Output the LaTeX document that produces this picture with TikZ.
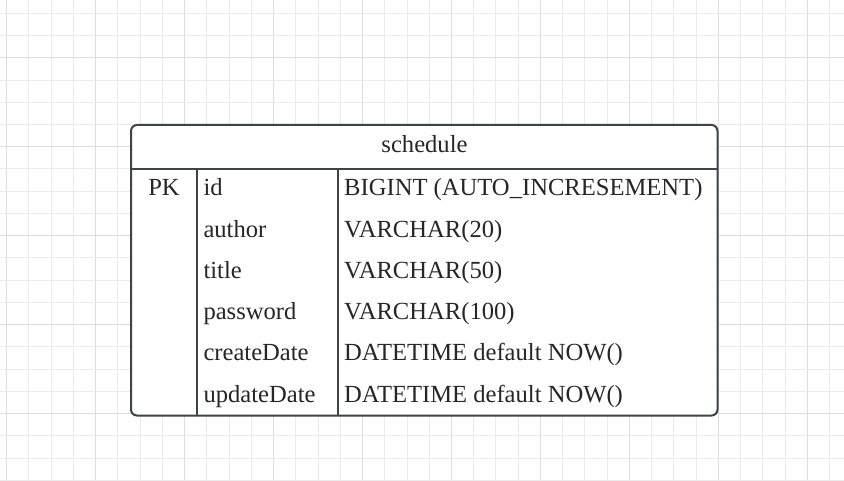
\documentclass[tikz,border=0pt]{standalone}
\usepackage{fontspec}
\setmainfont{Liberation Serif}
\definecolor{framecol}{HTML}{3D434B}
\definecolor{textcol}{HTML}{262626}
\definecolor{gridlight}{HTML}{EBEBEB}
\definecolor{griddark}{HTML}{DDDDDD}
\begin{document}
\begin{tikzpicture}[x=1pt,y=-1pt,
  gridminor/.style={draw=gridlight, line width=1pt},
  gridmajor/.style={draw=griddark, line width=1pt},
  tableframe/.style={draw=framecol, line width=2pt, rounded corners=6pt, fill=white,
    inner sep=0pt, outer sep=0pt, anchor=north west},
  rule/.style={draw=framecol, line width=2pt},
  celltext/.style={inner sep=0pt, text=textcol, font=\fontsize{24.6}{29}\selectfont},
  fieldtext/.style={celltext, anchor=base west},
]
\useasboundingbox (0,0) rectangle (844,481);
\fill[white] (0,0) rectangle (844,481);

% background grid: every fourth line slightly darker
\foreach \k in {0,...,37}{
  \pgfmathtruncatemacro\m{mod(\k,4)}
  \pgfmathsetmacro\gx{6.7+22.24*\k}
  \ifnum\m=0 \draw[gridmajor] (\gx,0) -- (\gx,481);
  \else \draw[gridminor] (\gx,0) -- (\gx,481); \fi
}
\foreach \k in {0,...,21}{
  \pgfmathtruncatemacro\m{mod(\k,4)}
  \pgfmathsetmacro\gy{13.3+22.24*\k}
  \ifnum\m=2 \draw[gridmajor] (0,\gy) -- (844,\gy);
  \else \draw[gridminor] (0,\gy) -- (844,\gy); \fi
}

% table frame
\node[tableframe, minimum width=586.5pt, minimum height=290.5pt] (tbl) at (131,125) {};
\coordinate (hdr) at (131,169);
\coordinate (colA) at (197.3,169);
\coordinate (colB) at (338.3,169);
\draw[rule] (tbl.west |- hdr) -- (tbl.east |- hdr);
\draw[rule] (colA) -- (colA |- tbl.south);
\draw[rule] (colB) -- (colB |- tbl.south);

% header
\node[celltext, anchor=base] (title) at (424.5,152.7) {schedule};

% key column
\node[celltext, anchor=base] (pk) at (164,196) {PK};

% field names
\node[fieldtext] (f1) at (203.3,196) {id};
\node[fieldtext] (f2) at (203.3,237.2) {author};
\node[fieldtext] (f3) at (203.3,278.4) {title};
\node[fieldtext] (f4) at (203.3,319.6) {password};
\node[fieldtext] (f5) at (203.3,360.8) {createDate};
\node[fieldtext] (f6) at (203.3,402) {updateDate};

% field types
\node[fieldtext] (t1) at (344,196) {BIGINT (AUTO\_INCRESEMENT)};
\node[fieldtext] (t2) at (344,237.2) {VARCHAR(20)};
\node[fieldtext] (t3) at (344,278.4) {VARCHAR(50)};
\node[fieldtext] (t4) at (344,319.6) {VARCHAR(100)};
\node[fieldtext] (t5) at (344,360.8) {DATETIME default NOW()};
\node[fieldtext] (t6) at (344,402) {DATETIME default NOW()};
\end{tikzpicture}
\end{document}
